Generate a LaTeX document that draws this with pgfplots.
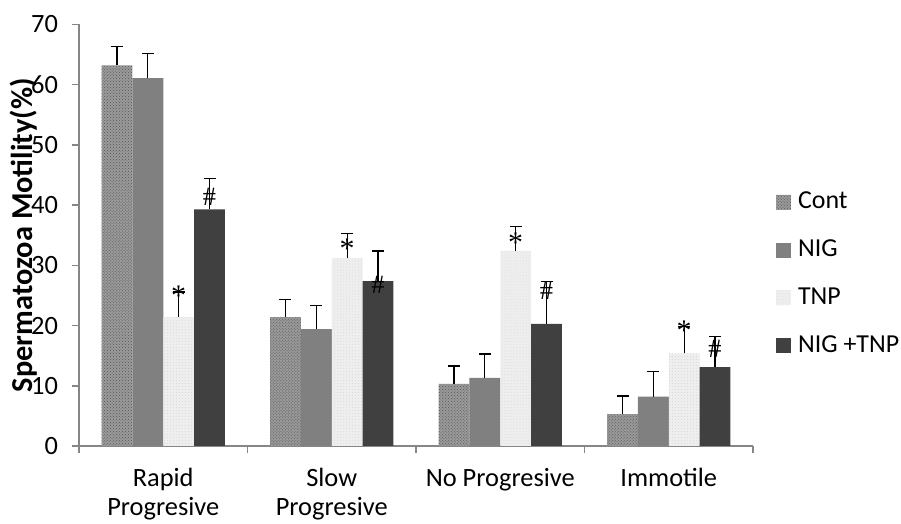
\documentclass[border=0pt]{standalone}
\usepackage{fontspec}
\setmainfont{Carlito}
\newfontfamily\symfont{Liberation Serif}
\usepackage{pgfplots}
\usepackage{pgfplotstable}
\pgfplotsset{compat=1.18}
\usetikzlibrary{patterns}
\definecolor{axisgray}{HTML}{868686}
\definecolor{nigcol}{HTML}{808080}
\definecolor{combocol}{HTML}{404040}
\definecolor{contbase}{HTML}{9A9A9A}
\definecolor{contdot}{HTML}{555555}
\definecolor{tnpbase}{HTML}{EEEEEE}
\definecolor{tnpdot}{HTML}{D8D8D8}

\pgfplotstableread{
x cont conterr nig nigerr tnp tnperr combo comboerr
0 63.2 3.1 61.1 4.1 21.4 4.2 39.3 5.1
1 21.4 2.9 19.4 3.9 31.2 4.1 27.4 5.0
2 10.3 3.0 11.3 4.0 32.4 4.1 20.3 7.0
3 5.3 3.0 8.2 4.2 15.4 4.4 13.1 5.1
}\motility

\begin{document}
\fontsize{26.5}{33.5}\selectfont
\begin{tikzpicture}
\useasboundingbox (0,0) rectangle (901bp,524bp);
\begin{axis}[
  at={(79bp,78bp)}, anchor=south west,
  scale only axis, width=674bp, height=421.5bp,
  ymin=0, ymax=70, ytick={0,10,...,70},
  xmin=-0.5, xmax=3.5,
  xtick={-0.5,0.5,1.5,2.5,3.5}, xticklabels={},
  extra x ticks={0,1,2,3},
  extra x tick labels={{Rapid\\Progresive},{Slow\\Progresive},{No Progresive},{Immotile}},
  extra x tick style={major tick length=0pt, xticklabel style={align=center, inner ysep=0pt, yshift=-22bp,
     font=\fontsize{26.5}{29}\selectfont}},
  axis x line*=bottom, axis y line*=left,
  axis line style={axisgray, line width=1.5bp, -},
  tick align=outside,
  tick style={axisgray, line width=1.5bp},
  major tick length=7bp,
  yticklabel style={xshift=-5bp},
  /pgf/number format/assume math mode=true,
  ybar=0pt, bar width=0.183,
  every axis y label/.style={at={(axis description cs:-0.0816,0.5)}, rotate=90, anchor=center,
     font=\fontsize{30.5}{34}\selectfont\bfseries},
  ylabel={Spermatozoa Motility(\%)},
  legend style={at={(1.034,0.408)}, anchor=west, draw=none, fill=none, inner sep=0pt,
    row sep=27bp, nodes={inner sep=0pt, anchor=west}, font=\fontsize{26}{30}\selectfont,
    /tikz/every odd column/.append style={column sep=7bp}},
  legend image code/.code={\fill[#1] (0bp,-7.5bp) rectangle (15bp,7.5bp);},
  legend cell align=left,
]
\addplot[fill=contbase, draw=none, postaction={pattern=crosshatch dots, pattern color=contdot},
  error bars/.cd, y dir=plus, y explicit,
  error bar style={draw=black, line width=1.3bp},
  error mark options={draw=black, line width=1.3bp, mark size=6bp, rotate=90}]
  table[x=x, y=cont, y error=conterr] {\motility};
\addplot[fill=nigcol, draw=none,
  error bars/.cd, y dir=plus, y explicit,
  error bar style={draw=black, line width=1.3bp},
  error mark options={draw=black, line width=1.3bp, mark size=6bp, rotate=90}]
  table[x=x, y=nig, y error=nigerr] {\motility};
\addplot[fill=tnpbase, draw=none, postaction={pattern=dots, pattern color=tnpdot},
  error bars/.cd, y dir=plus, y explicit,
  error bar style={draw=black, line width=1.3bp},
  error mark options={draw=black, line width=1.3bp, mark size=6bp, rotate=90}]
  table[x=x, y=tnp, y error=tnperr] {\motility};
\addplot[fill=combocol, draw=none,
  error bars/.cd, y dir=plus, y explicit,
  error bar style={draw=black, line width=1.3bp},
  error mark options={draw=black, line width=1.3bp, mark size=6bp, rotate=90}]
  table[x=x, y=combo, y error=comboerr] {\motility};
\legend{Cont, NIG, TNP, NIG +TNP}
% significance marks
\node[anchor=base, font=\fontsize{30}{34}\symfont] at (axis cs:0.0915,23.3) {*};
\node[anchor=base, font=\fontsize{30}{34}\symfont] at (axis cs:1.0915,31.06) {*};
\node[anchor=base, font=\fontsize{30}{34}\symfont] at (axis cs:2.0915,32.1) {*};
\node[anchor=base, font=\fontsize{30}{34}\symfont] at (axis cs:3.0915,17.55) {*};
\node[anchor=base, font=\fontsize{26.5}{30}\symfont] at (axis cs:0.2745,40.0) {\#};
\node[anchor=base, font=\fontsize{26.5}{30}\symfont] at (axis cs:1.2745,25.25) {\#};
\node[anchor=base, font=\fontsize{26.5}{30}\symfont] at (axis cs:2.2745,24.4) {\#};
\node[anchor=base, font=\fontsize{26.5}{30}\symfont] at (axis cs:3.2745,14.7) {\#};
\end{axis}
\end{tikzpicture}
\end{document}
